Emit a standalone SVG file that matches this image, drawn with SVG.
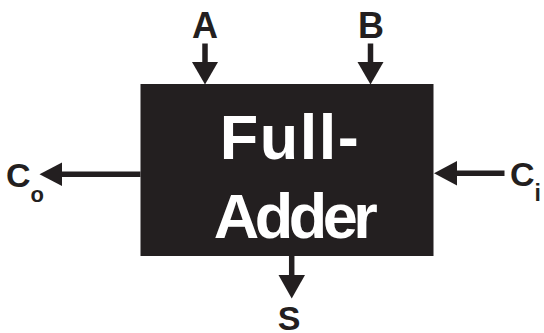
<svg xmlns="http://www.w3.org/2000/svg" width="544" height="333" viewBox="0 0 544 333">
  <style>
    .ink { fill: #231f20; }
    .wire { stroke: #231f20; stroke-width: 5.5; fill: none; }
    .lbl { font-family: "Liberation Sans", Arial, Helvetica, sans-serif; font-weight: bold; fill: #231f20; }
    .title { font-family: "Liberation Sans", Arial, Helvetica, sans-serif; font-weight: bold; fill: #ffffff; font-size: 63px; }
  </style>

  <!-- full-adder block -->
  <g id="full-adder">
    <rect class="ink" x="140.5" y="84" width="293" height="172"/>
    <text class="title" x="290" y="159.3" text-anchor="middle" letter-spacing="1.5">Full-</text>
    <text class="title" x="293.5" y="237.7" text-anchor="middle" letter-spacing="-4.5">Adder</text>
  </g>

  <!-- port labels -->
  <g id="port-a">
    <text class="lbl" x="205" y="37.5" font-size="36" text-anchor="middle">A</text>
  </g>
  <g id="port-b">
    <text class="lbl" x="371" y="37.5" font-size="36" text-anchor="middle">B</text>
  </g>
  <g id="port-co">
    <text class="lbl" x="6" y="186.5" font-size="34">C<tspan font-size="22" dy="15">o</tspan></text>
  </g>
  <g id="port-ci">
    <text class="lbl" x="510" y="186" font-size="34">C<tspan font-size="23" dy="14.5">i</tspan></text>
  </g>
  <g id="port-s">
    <text class="lbl" x="289" y="329.5" font-size="34" text-anchor="middle">S</text>
  </g>

  <!-- connectors -->
  <g id="connectors">
    <!-- A in -->
    <line class="wire" x1="205" y1="43.5" x2="205" y2="63"/>
    <polygon class="ink" points="192,62 218,62 205,84.5"/>
    <!-- B in -->
    <line class="wire" x1="370.5" y1="43.5" x2="370.5" y2="63"/>
    <polygon class="ink" points="357.5,62 383.5,62 370.5,84.5"/>
    <!-- carry out -->
    <line class="wire" x1="140.5" y1="174.3" x2="60" y2="174.3"/>
    <polygon class="ink" points="62,162.5 62,186 39.5,174.3"/>
    <!-- carry in -->
    <line class="wire" x1="504.5" y1="173.3" x2="455" y2="173.3"/>
    <polygon class="ink" points="457,161 457,185.5 434,173.3"/>
    <!-- sum out -->
    <line class="wire" x1="291.7" y1="256" x2="291.7" y2="277"/>
    <polygon class="ink" points="278.5,275 305,275 291.7,298.5"/>
  </g>
</svg>
